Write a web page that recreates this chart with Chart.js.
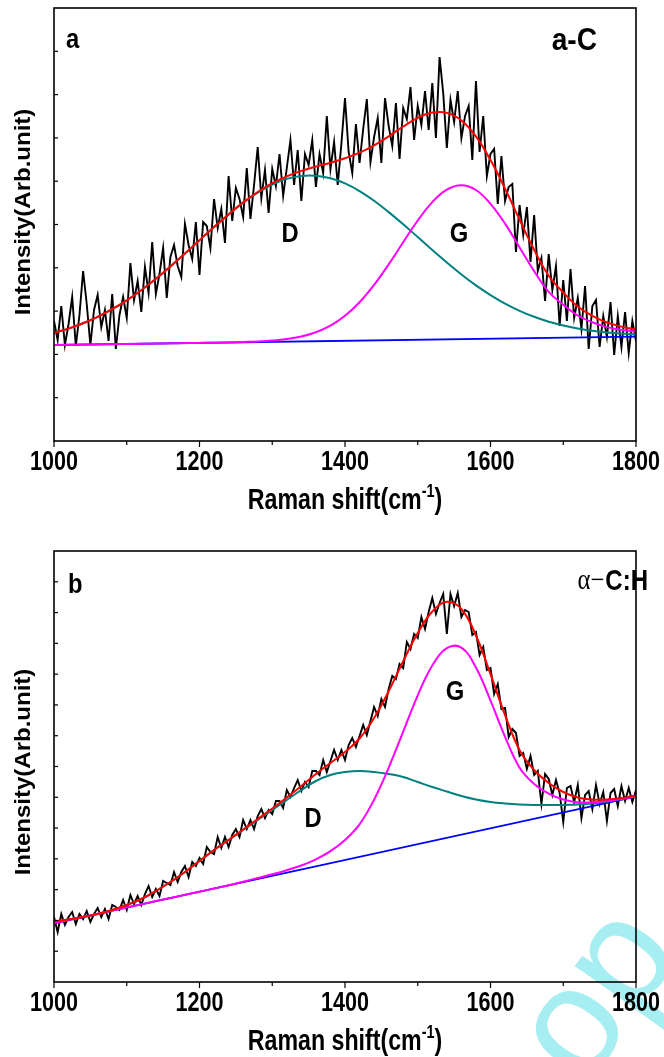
<!DOCTYPE html>
<html>
<head>
<meta charset="utf-8">
<script src="https://cdn.jsdelivr.net/npm/chart.js@4.4.1/dist/chart.umd.min.js"></script>
<style>
  body { margin: 0; background: #fff; }
  .panel { position: absolute; left: 0; width: 664px; }
  #panelA { top: 0; height: 528px; }
  #panelB { top: 528px; height: 529px; }
</style>
</head>
<body>
<div class="panel" id="panelA"><canvas id="chartA" width="664" height="528"></canvas></div>
<div class="panel" id="panelB"><canvas id="chartB" width="664" height="529"></canvas></div>
<script>
(function(){
// Raman shift grid of the measured spectra (cm-1)
const shiftFine = [
  1000,1005,1010,1015,1020,1025,1030,1035,1040,1045,1050,1055,1060,1065,1070,1075,1080,1085,1090,1095,
  1100,1105,1110,1115,1120,1125,1130,1135,1140,1145,1150,1155,1160,1165,1170,1175,1180,1185,1190,1195,
  1200,1205,1210,1215,1220,1225,1230,1235,1240,1245,1250,1255,1260,1265,1270,1275,1280,1285,1290,1295,
  1300,1305,1310,1315,1320,1325,1330,1335,1340,1345,1350,1355,1360,1365,1370,1375,1380,1385,1390,1395,
  1400,1405,1410,1415,1420,1425,1430,1435,1440,1445,1450,1455,1460,1465,1470,1475,1480,1485,1490,1495,
  1500,1505,1510,1515,1520,1525,1530,1535,1540,1545,1550,1555,1560,1565,1570,1575,1580,1585,1590,1595,
  1600,1605,1610,1615,1620,1625,1630,1635,1640,1645,1650,1655,1660,1665,1670,1675,1680,1685,1690,1695,
  1700,1705,1710,1715,1720,1725,1730,1735,1740,1745,1750,1755,1760,1765,1770,1775,1780,1785,1790,1795,1800
];
// Raman shift grid of the fitted curves (cm-1)
const shiftFit = [
  1000,1020,1040,1060,1080,1100,1120,1140,1160,1180,1200,1220,1240,1260,1280,1300,1320,1340,1360,1380,
  1400,1420,1440,1460,1480,1500,1520,1540,1560,1580,1600,1620,1640,1660,1680,1700,1720,1740,1760,1780,1800
];
const baselineShift = [1000, 1800];

const xTickLabels = [1000, 1200, 1400, 1600, 1800];
const xMinorTicks = [1100, 1300, 1500, 1700];

// ---- panel a : a-C ----
const spectrumA = [
  120,101,135,96,117,144,95,126,170,137,96,131,146,114,131,100,147,92,126,144,
  123,178,141,160,129,174,148,199,147,167,193,143,184,196,175,164,217,196,182,219,
  166,219,215,193,242,213,232,198,265,220,253,242,224,273,222,256,294,243,271,228,
  272,255,287,245,273,301,256,291,240,287,276,301,254,287,268,325,272,299,256,297,
  343,289,268,317,278,312,342,279,304,323,278,343,315,295,338,282,333,322,354,301,
  335,316,350,311,358,303,384,348,293,341,319,350,303,325,335,281,360,289,325,265,
  287,292,237,285,240,254,257,189,236,206,234,179,226,170,183,140,187,151,175,115,
  161,120,172,123,143,112,155,92,135,141,94,125,104,139,86,125,94,129,88,120,100
];
const fitSumA = [
  108.2,112.4,117.7,124.2,131.8,140.7,150.8,162.2,174.5,187.4,200.8,214.0,226.6,238.6,249.0,257.8,264.7,270.1,274.4,278.2,
  282.7,288.3,295.7,304.7,314.5,323.2,328.4,328.1,320.5,304.6,280.9,252.4,221.2,191.2,165.3,148.5,134.5,125.2,118.5,114.4,111.6
];
const peakGA = [
  96.0,96.2,96.4,96.6,96.8,97.0,97.2,97.5,97.7,97.9,98.1,98.3,98.5,99.0,99.5,100.4,101.9,104.5,108.8,115.4,
  125.3,138.8,156.1,176.6,198.8,220.5,238.9,251.3,255.8,251.0,237.2,217.4,193.6,169.9,149.1,136.3,125.5,118.7,113.9,111.1,109.3
];
const peakDA = [
  108.2,112.4,117.7,124.2,131.8,140.7,150.8,162.2,174.5,187.4,200.8,214.0,226.6,238.3,248.4,256.5,262.1,265.1,265.3,262.7,
  257.6,249.9,240.2,228.9,216.7,203.9,190.9,178.4,166.5,155.6,145.9,137.4,130.2,124.2,119.3,115.5,112.5,110.2,108.5,107.4,106.6
];
const baselineA = [96.0, 104.3];

// ---- panel b : α-C:H ----
const spectrumB = [
  65,50,68,57,65,70,58,68,63,71,60,68,74,65,73,63,77,75,72,82,
  72,87,78,86,77,88,96,85,93,86,101,99,97,110,100,110,116,105,120,116,
  124,118,135,130,128,145,134,145,135,147,153,145,162,153,162,153,166,173,164,172,
  168,181,181,174,192,185,194,202,191,200,195,211,211,207,222,210,221,232,222,232,
  222,237,244,235,246,257,247,261,275,266,283,275,293,306,303,318,314,340,333,348,
  344,365,353,370,384,368,379,388,348,388,376,389,365,372,370,347,350,327,335,312,
  314,288,298,273,274,245,253,249,226,229,213,226,207,211,178,208,203,187,202,189,
  160,194,196,180,197,164,187,191,173,197,178,190,161,189,193,176,196,181,194,180,192
];
const fitSumB = [
  60.5,62.5,65,68,72,77,83,91,100,110,121,132,142,152.5,163,173.5,184.5,196,208,219,
  230,243.5,264,290.7,320.8,348.9,370.5,380.2,373,346.5,307.8,266.9,231.8,212,199,190,184.5,182.5,182.5,184,186.5
];
const peakGB = [
  58.7,61.9,65.0,68.2,71.4,74.5,77.7,80.9,84.0,87.2,90.3,93.5,96.7,100.3,104.0,107.7,111.8,116.5,122.7,130.8,
  142.0,157.7,182.3,214.2,250.4,286.7,316.5,333.8,334.3,314.5,281.4,245.2,214.3,198.1,188.3,182.5,179.6,179.8,180.9,183.1,185.8
];
const peakDB = [
  60.5,62.5,65,68,72,77,83,91,100,110,121,132,142,152,162,172,182,192,201,207,
  210,211,210,208,205,200,195,190.5,186,182.5,180,178.5,177.5,177,177,177,177.5,178.5,180.5,183,186
];
const baselineB = [58.7, 185.3];

const FONT = '"Liberation Sans", Arial, sans-serif';

function pairs(xs, ys) {
    return xs.map((x, i) => ({x: x, y: ys[i]}));
}

function boldText(ctx, text, x, y, size, align, sx) {
    ctx.save();
    ctx.font = 'bold ' + size + 'px ' + FONT;
    ctx.translate(x, y);
    ctx.scale(sx, 1);
    ctx.textAlign = align;
    ctx.textBaseline = 'alphabetic';
    ctx.fillText(text, 0, 0);
    ctx.restore();
}

function textWidth(ctx, text, font, sx) {
    ctx.save();
    ctx.font = font;
    const w = ctx.measureText(text).width * sx;
    ctx.restore();
    return w;
}

function line(ctx, x1, y1, x2, y2) {
    ctx.beginPath();
    ctx.moveTo(x1, y1);
    ctx.lineTo(x2, y2);
    ctx.stroke();
}

const framePlugin = {
    id: 'frame',
    afterDraw(chart) {
        const p = chart.options.plugins.frame;
        const ctx = chart.ctx;
        const a = chart.chartArea;
        const xs = chart.scales.x;
        const ys = chart.scales.y;
        ctx.save();

        if (p.watermark) {
            // watermark fragment, under the axes and labels
            ctx.save();
            ctx.fillStyle = '#a6eef2';
            ctx.translate(585, 560);
            ctx.rotate(-0.95);
            ctx.font = '150px ' + FONT;
            ctx.fillText('op', 0, 0);
            ctx.restore();
        }

        ctx.strokeStyle = '#000';
        ctx.fillStyle = '#000';
        ctx.lineWidth = 1.6;
        ctx.strokeRect(a.left, a.top, a.right - a.left, a.bottom - a.top);

        ctx.lineWidth = 1.2;
        for (let i = 1; i < p.yTicks; i++) {
            const py = ys.getPixelForValue(ys.max * i / p.yTicks);
            line(ctx, a.left, py, a.left + 4, py);
        }
        xTickLabels.forEach((v) => {
            const px = xs.getPixelForValue(v);
            line(ctx, px, a.bottom, px, a.bottom + 6);
            boldText(ctx, String(v), px, a.bottom + 29, 27, 'center', 0.8);
        });
        xMinorTicks.forEach((v) => {
            const px = xs.getPixelForValue(v);
            line(ctx, px, a.bottom, px, a.bottom + 4);
        });

        // x title with superscript
        const mainFont = 'bold 29px ' + FONT;
        const supFont = 'bold 18px ' + FONT;
        const t1 = 'Raman shift(cm', t2 = '-1', t3 = ')';
        const w1 = textWidth(ctx, t1, mainFont, 0.8);
        const w2 = textWidth(ctx, t2, supFont, 0.8);
        const w3 = textWidth(ctx, t3, mainFont, 0.8);
        let tx = (a.left + a.right) / 2 - (w1 + w2 + w3) / 2;
        const ty = a.bottom + 68;
        boldText(ctx, t1, tx, ty, 29, 'left', 0.8);
        boldText(ctx, t2, tx + w1, ty - 12, 18, 'left', 0.8);
        boldText(ctx, t3, tx + w1 + w2, ty, 29, 'left', 0.8);

        // y title
        ctx.save();
        ctx.translate(p.yTitle[0], p.yTitle[1]);
        ctx.rotate(-Math.PI / 2);
        ctx.scale(1, 0.95);
        ctx.font = 'bold 24px ' + FONT;
        ctx.textAlign = 'center';
        ctx.textBaseline = 'middle';
        ctx.fillText('Intensity(Arb.unit)', 0, 0);
        ctx.restore();

        boldText(ctx, p.letter[0], p.letter[1], p.letter[2], 28, 'left', 0.85);
        boldText(ctx, 'D', p.dPos[0], p.dPos[1], 28, 'center', 0.85);
        boldText(ctx, 'G', p.gPos[0], p.gPos[1], 28, 'center', 0.85);

        if (p.sample === 'a-C') {
            boldText(ctx, 'a-C', p.samplePos[0], p.samplePos[1], 32, 'right', 0.88);
        } else {
            const wBold = textWidth(ctx, 'C:H', 'bold 30px ' + FONT, 0.8);
            boldText(ctx, 'C:H', p.samplePos[0], p.samplePos[1], 30, 'right', 0.8);
            ctx.save();
            ctx.font = '29px "Liberation Serif", serif';
            ctx.textAlign = 'right';
            ctx.translate(p.samplePos[0] - wBold - 1, p.samplePos[1] - 1);
            ctx.scale(0.85, 1);
            ctx.fillText('\u03b1\u2212', 0, 0);
            ctx.restore();
        }
        ctx.restore();
    }
};

function makeChart(id, cfg) {
    return new Chart(document.getElementById(id), {
        type: 'line',
        data: {
            datasets: [
                { data: pairs(shiftFit, cfg.sum), borderColor: '#ff0000', borderWidth: 2, tension: 0.4 },
                { data: pairs(shiftFit, cfg.g), borderColor: '#ff00ff', borderWidth: 2, tension: 0.4 },
                { data: pairs(shiftFit, cfg.d), borderColor: '#008080', borderWidth: 2, tension: 0.4 },
                { data: pairs(baselineShift, cfg.baseline), borderColor: '#0000ff', borderWidth: 1.8 },
                { data: pairs(shiftFine, cfg.spectrum), borderColor: '#000000', borderWidth: 1.9, tension: 0 }
            ]
        },
        options: {
            responsive: false,
            animation: false,
            devicePixelRatio: 1,
            layout: { padding: { left: 54, right: 28, top: cfg.top, bottom: 0 } },
            elements: { point: { radius: 0 } },
            plugins: {
                legend: { display: false },
                tooltip: { enabled: false },
                frame: cfg.frame
            },
            scales: {
                x: {
                    type: 'linear', min: 1000, max: 1800,
                    ticks: { display: false },
                    grid: { display: false },
                    border: { display: false },
                    afterFit: (s) => { s.height = cfg.xHeight; }
                },
                y: { display: false, min: 0, max: cfg.yMax }
            }
        },
        plugins: [framePlugin]
    });
}

makeChart('chartA', {
    sum: fitSumA, g: peakGA, d: peakDA, baseline: baselineA, spectrum: spectrumA,
    top: 8, xHeight: 87, yMax: 433,
    frame: { yTicks: 10, yTitle: [24, 212], letter: ['a', 66, 48], dPos: [290, 242], gPos: [459, 242],
             sample: 'a-C', samplePos: [597, 50], watermark: false }
});
makeChart('chartB', {
    sum: fitSumB, g: peakGB, d: peakDB, baseline: baselineB, spectrum: spectrumB,
    top: 23, xHeight: 75, yMax: 431,
    frame: { yTicks: 14, yTitle: [24, 244], letter: ['b', 68, 65], dPos: [313, 299], gPos: [455, 172],
             sample: 'aCH', samplePos: [648, 62], watermark: true }
});
}());
</script>
</body>
</html>
